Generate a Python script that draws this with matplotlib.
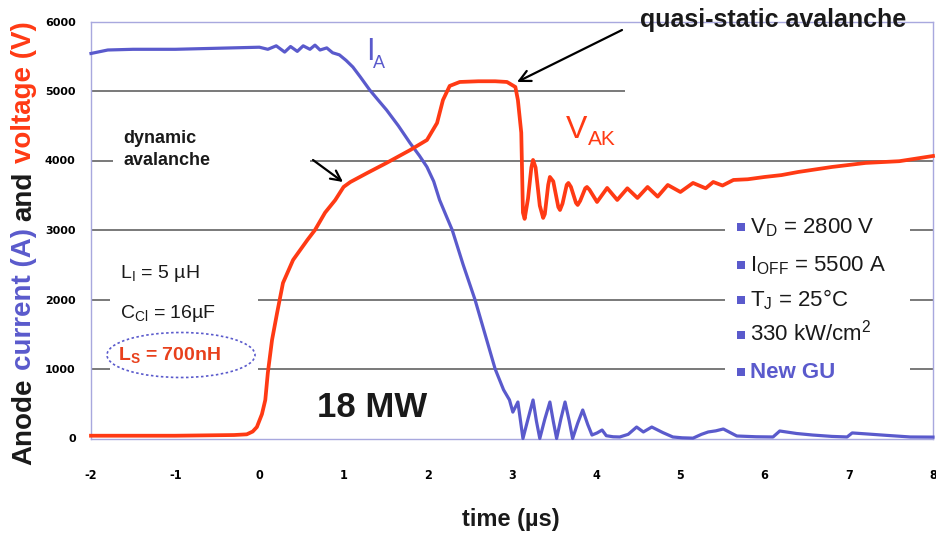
import matplotlib
matplotlib.use('Agg')
import matplotlib.pyplot as plt
from matplotlib.patches import Ellipse, Rectangle

W, H = 936, 535
plt.rcParams['font.family'] = ['Liberation Sans', 'DejaVu Sans']
plt.rcParams['mathtext.fontset'] = 'custom'
plt.rcParams['mathtext.rm'] = 'Liberation Sans'
plt.rcParams['mathtext.it'] = 'Liberation Sans:italic'
plt.rcParams['mathtext.bf'] = 'Liberation Sans:bold'

BLUE = '#5a5acc'
RED = '#ff3a14'
DARK = '#1a1a1a'

# ---- data ----
t_ia = [-2.0, -1.8, -1.5, -1.0, -0.5, 0.0, 0.1, 0.2, 0.3, 0.37, 0.45, 0.52, 0.6, 0.66, 0.72,
        0.8, 0.87, 0.95, 1.03, 1.11, 1.2, 1.31, 1.41, 1.51, 1.65, 1.79, 1.9, 1.99, 2.07, 2.14,
        2.22, 2.29, 2.42, 2.56, 2.68, 2.8, 2.9, 2.97, 3.01, 3.07, 3.13, 3.19, 3.25, 3.29, 3.33,
        3.39, 3.45, 3.49, 3.53, 3.58, 3.63, 3.68, 3.72, 3.78, 3.84, 3.9, 3.95, 4.01, 4.07, 4.12,
        4.2, 4.28, 4.38, 4.48, 4.56, 4.66, 4.79, 4.91, 5.02, 5.15, 5.25, 5.33, 5.42, 5.51, 5.6,
        5.67, 5.9, 6.1, 6.18, 6.38, 6.57, 6.8, 6.98, 7.04, 7.22, 7.45, 7.73, 8.0]
ia = [5540, 5590, 5600, 5600, 5615, 5630, 5600, 5650, 5560, 5640, 5570, 5650, 5600, 5660, 5590,
      5620, 5550, 5520, 5440, 5345, 5200, 5015, 4870, 4727, 4500, 4250, 4070, 3907, 3700, 3432,
      3200, 3000, 2500, 2000, 1500, 1000, 700, 555, 380, 525, 0, 280, 554, 250, 0,
      280, 525, 250, 0, 280, 525, 250, 0, 220, 410, 200, 50, 80, 122, 40,
      25, 22, 60, 165, 94, 165, 86, 22, 10, 5, 60, 94, 110, 137, 80,
      36, 25, 22, 108, 72, 50, 30, 22, 80, 65, 45, 22, 20]

t_vak = [-2.0, -1.0, -0.3, -0.15, -0.08, -0.03, 0.03, 0.07, 0.10, 0.15, 0.21, 0.28, 0.4, 0.57,
         0.66, 0.78, 0.9, 1.0, 1.08, 1.28, 1.51, 1.79, 1.99, 2.11, 2.18, 2.26, 2.38, 2.6, 2.8,
         2.94, 3.04, 3.07, 3.11, 3.13, 3.15, 3.19, 3.23, 3.25, 3.28, 3.33, 3.37, 3.39, 3.43,
         3.45, 3.49, 3.55, 3.57, 3.6, 3.65, 3.67, 3.7, 3.76, 3.78, 3.81, 3.87, 3.89, 3.92,
         4.01, 4.13, 4.25, 4.37, 4.49, 4.61, 4.73, 4.85, 5.0, 5.15, 5.3, 5.39, 5.5, 5.63,
         5.8, 6.0, 6.2, 6.4, 6.8, 7.2, 7.6, 8.0]
vak = [40, 40, 50, 60, 100, 165, 350, 554, 943, 1417, 1806, 2238, 2569, 2857,
       3000, 3250, 3430, 3620, 3690, 3820, 3965, 4150, 4295, 4540, 4870, 5073, 5130, 5140, 5140,
       5130, 5058, 4870, 4400, 3250, 3160, 3450, 3900, 4008, 3900, 3350, 3174, 3230, 3650,
       3763, 3700, 3330, 3288, 3380, 3650, 3677, 3620, 3390, 3360, 3420, 3600, 3619, 3580,
       3403, 3605, 3432, 3600, 3461, 3619, 3480, 3648, 3547, 3677, 3600, 3691, 3640, 3720,
       3730, 3763, 3790, 3835, 3907, 3965, 3990, 4065]

x_ticks = [-2, -1, 0, 1, 2, 3, 4, 5, 6, 7, 8]
y_ticks = [0, 1000, 2000, 3000, 4000, 5000, 6000]

legend_items = [r'V$_\mathregular{D}$ = 2800 V', r'I$_\mathregular{OFF}$ = 5500 A',
                r'T$_\mathregular{J}$ = 25°C', r'330 kW/cm$^\mathregular{2}$', 'New GU']


def fx(px):
    return px / W


def fy(py):
    return 1 - py / H


fig = plt.figure(figsize=(W / 100, H / 100), dpi=100)
ax = fig.add_axes([fx(91), fy(438.5), (933 - 91) / W, (438.5 - 21.5) / H])
ax.set_xlim(-2, 8)
ax.set_ylim(0, 6000)

# broken horizontal grid lines (interrupted by text boxes in the original)
grid_segments = [(5000, -2, 4.34), (4000, -2, -1.74), (4000, 0.6, 8),
                 (3000, -2, 5.53), (3000, 7.73, 8),
                 (2000, -2, -1.77), (2000, -0.02, 5.53), (2000, 7.73, 8),
                 (1000, -2, -1.77), (1000, -0.02, 5.53), (1000, 7.73, 8)]
for yv, x0, x1 in grid_segments:
    ax.hlines(yv, x0, x1, color='#555555', lw=1.1, zorder=1)

ax.plot(t_ia, ia, color=BLUE, lw=2.3, zorder=3, clip_on=False, solid_joinstyle='round')
ax.plot(t_vak, vak, color=RED, lw=2.7, zorder=4, clip_on=False, solid_joinstyle='round')

for s in ax.spines.values():
    s.set_color('#a8a8de')
    s.set_linewidth(1.0)

ax.set_xticks(x_ticks)
ax.set_yticks(y_ticks)
ax.set_yticklabels([str(v) for v in y_ticks])
ax.set_xticklabels([str(v) for v in x_ticks])
ax.tick_params(axis='both', length=0)
ax.tick_params(axis='y', pad=11)
ax.tick_params(axis='x', pad=22)
for lbl in ax.get_yticklabels():
    lbl.set_fontfamily('DejaVu Sans')
    lbl.set_fontweight('bold')
    lbl.set_fontsize(8)
for lbl in ax.get_xticklabels():
    lbl.set_fontfamily('DejaVu Sans')
    lbl.set_fontstretch('condensed')
    lbl.set_fontweight('bold')
    lbl.set_fontsize(9)

# x label
fig.text(fx(511), fy(526), 'time (µs)', ha='center', va='baseline',
         fontsize=17, fontweight='bold', color=DARK)

# curve labels
fig.text(fx(366), fy(60), 'I', fontsize=22, color=BLUE, va='baseline', ha='left')
fig.text(fx(373), fy(68), 'A', fontsize=13, color=BLUE, va='baseline', ha='left')
fig.text(fx(566), fy(138), 'V', fontsize=23, color=RED, va='baseline', ha='left')
fig.text(fx(588), fy(145), 'AK', fontsize=15, color=RED, va='baseline', ha='left')

# annotations
fig.text(fx(640), fy(27), 'quasi-static avalanche', fontsize=18, fontweight='bold',
         color=DARK, va='baseline', ha='left')
fig.text(fx(123), fy(143), 'dynamic', fontsize=13, fontweight='bold', color=DARK,
         va='baseline', ha='left')
fig.text(fx(123), fy(165), 'avalanche', fontsize=13, fontweight='bold', color=DARK,
         va='baseline', ha='left')
ax.annotate('', xy=(fx(517), fy(82)), xycoords='figure fraction',
            xytext=(fx(622), fy(30)), textcoords='figure fraction',
            arrowprops=dict(arrowstyle='->', lw=1.6, color='black', mutation_scale=20,
                            shrinkA=0, shrinkB=0))
ax.annotate('', xy=(fx(343), fy(182)), xycoords='figure fraction',
            xytext=(fx(313), fy(160)), textcoords='figure fraction',
            arrowprops=dict(arrowstyle='->', lw=1.6, color='black', mutation_scale=18,
                            shrinkA=0, shrinkB=0))

fig.text(fx(317), fy(417), '18 MW', fontsize=25, fontweight='bold', color=DARK,
         va='baseline', ha='left')

# circuit parameters
fig.text(fx(120), fy(278), r'L$_\mathregular{I}$ = 5 µH', fontsize=14, color=DARK,
         va='baseline', ha='left')
fig.text(fx(120), fy(318), r'C$_\mathregular{Cl}$ = 16µF', fontsize=14, color=DARK,
         va='baseline', ha='left')
fig.text(fx(118), fy(360), r'L$_\mathbf{S}$ = 700nH', fontsize=14, fontweight='bold',
         color='#e8401c', va='baseline', ha='left')
fig.add_artist(Ellipse((fx(181), fy(355)), 148 / W, 45 / H, transform=fig.transFigure,
                       fill=False, ec=BLUE, lw=1.2, ls=(0, (1.5, 1.5))))

# legend-like block
base_y = [233, 271, 306, 341, 378]
for txt, by in zip(legend_items, base_y):
    is_last = txt == 'New GU'
    fig.add_artist(Rectangle((fx(737), fy(by - 2)), 8 / W, 8 / H, transform=fig.transFigure,
                             color=BLUE, lw=0))
    fig.text(fx(750), fy(by), txt, fontsize=16, color=BLUE if is_last else DARK,
             fontweight='bold' if is_last else 'normal', va='baseline', ha='left')

# multi-coloured y label
fig.canvas.draw()
r = fig.canvas.get_renderer()
parts = [('Anode', DARK), ('current (A)', BLUE), ('and', DARK), ('voltage (V)', RED)]
ycur = 465
for s, c in parts:
    t = fig.text(fx(31), fy(ycur), s, rotation=90, rotation_mode='anchor', ha='left',
                 va='baseline', fontsize=20, fontweight='bold', color=c)
    bb = t.get_window_extent(r)
    ycur -= bb.height + 8

fig.savefig('out.png', dpi=100)
